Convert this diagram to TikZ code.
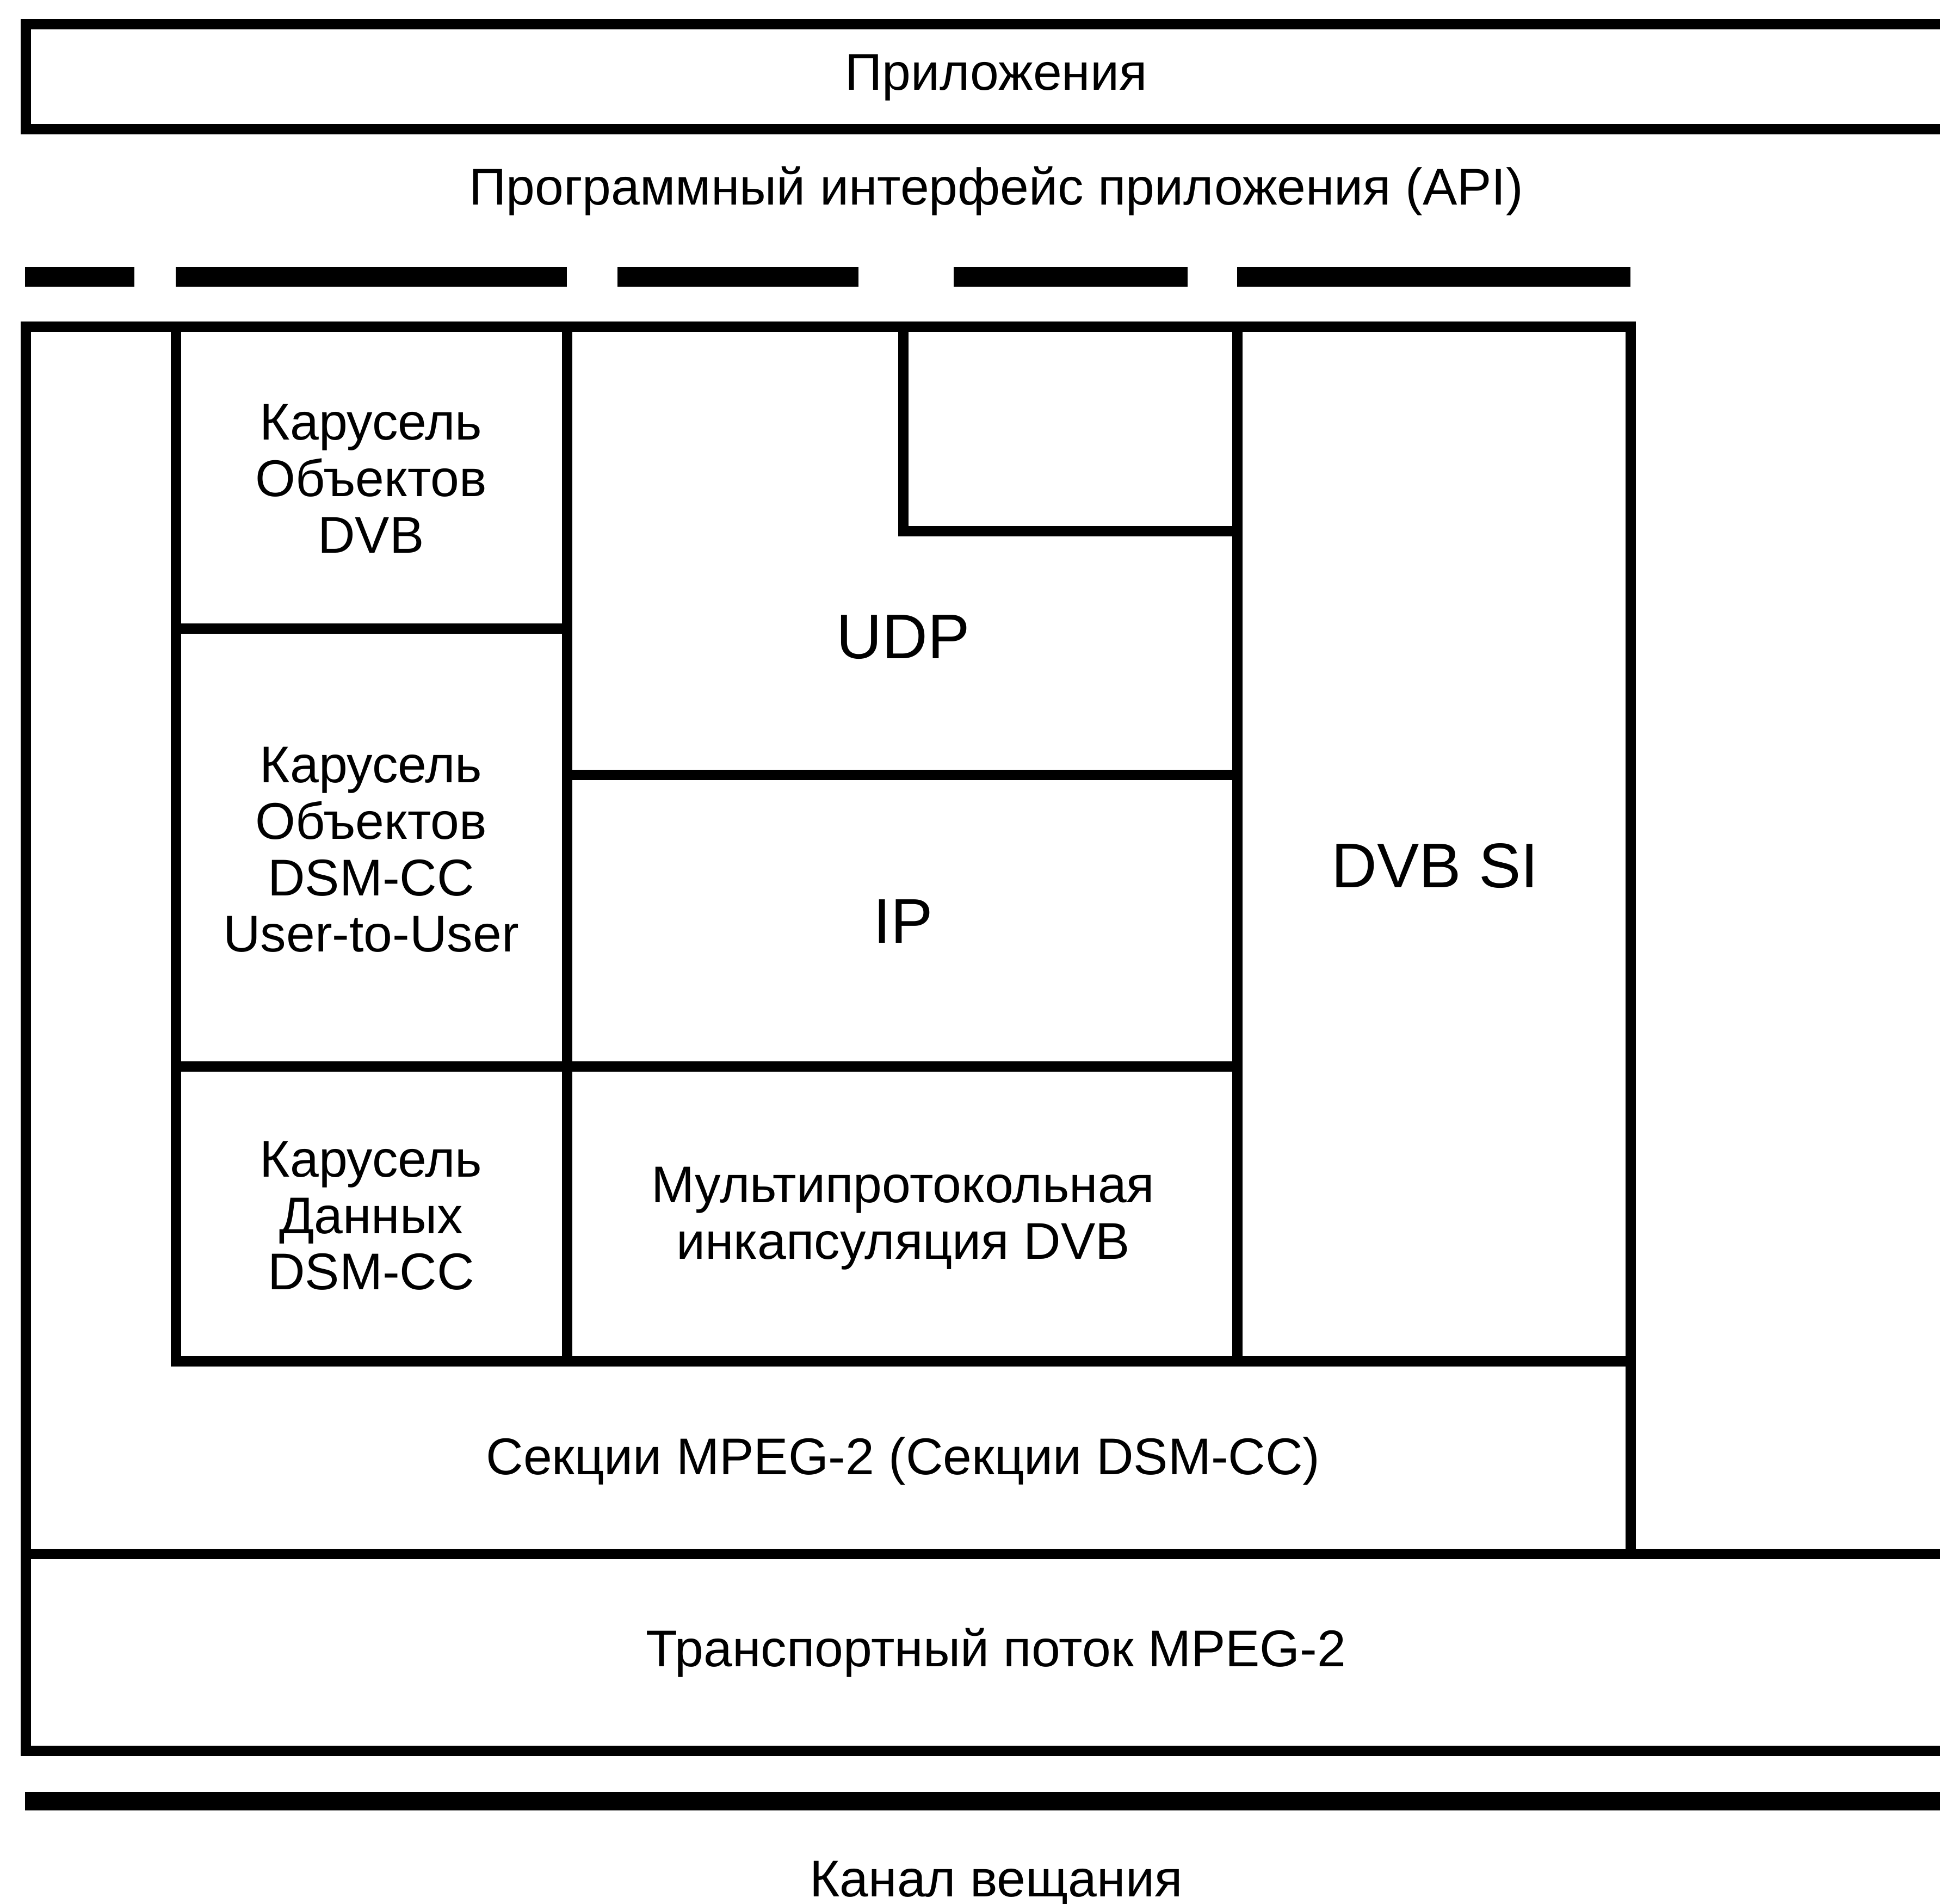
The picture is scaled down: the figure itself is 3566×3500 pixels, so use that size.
\documentclass[tikz,border=0pt]{standalone}
\usepackage{fontspec}
\setmainfont{Liberation Sans}
\begin{document}
\begin{tikzpicture}[x=0.01cm,y=-0.01cm,
  ln/.style={line width=19*0.01cm, line join=miter, line cap=rect},
  dsh/.style={line width=36*0.01cm, line cap=butt},
  thk/.style={line width=34*0.01cm, line cap=butt},
  lbl/.style={font=\fontsize{27}{29.5}\selectfont, align=center, inner sep=0pt},
  big/.style={font=\fontsize{33}{36}\selectfont, align=center, inner sep=0pt}]
\useasboundingbox (0,0) rectangle (3566,3500);
% top box
\draw[ln] (3620,45) -- (47,45) -- (47,238) -- (3620,238);
\node[lbl] (app) at (1831,143) {Приложения};
\node[lbl] (api) at (1831,351) {Программный интерфейс приложения (API)};
% dashes
\coordinate (d1a) at (46,509); \coordinate (d1b) at (247,509);
\coordinate (d2a) at (323,509); \coordinate (d2b) at (1042,509);
\coordinate (d3a) at (1135,509); \coordinate (d3b) at (1578,509);
\coordinate (d4a) at (1753,509); \coordinate (d4b) at (2183,509);
\coordinate (d5a) at (2274,509); \coordinate (d5b) at (2997,509);
\draw[dsh] (d1a) -- (d1b) (d2a) -- (d2b) (d3a) -- (d3b) (d4a) -- (d4b) (d5a) -- (d5b);
% main box
\draw[ln] (47,600) rectangle (2997,2856);
% inner structure
\draw[ln] (323,600) -- (323,2502) -- (2997,2502);
\draw[ln] (1042,600) -- (1042,2502);
\draw[ln] (2274,600) -- (2274,2502);
\draw[ln] (323,1155) -- (1042,1155);
\draw[ln] (323,1960) -- (2274,1960);
\draw[ln] (1042,1424) -- (2274,1424);
\draw[ln] (1660,600) -- (1660,976) -- (2274,976);
% transport box
\draw[ln] (3620,2856) -- (47,2856) -- (47,3218) -- (3620,3218);
% thick channel line
\draw[thk] (46,3311) -- (3620,3311);
% labels
\node[lbl] (c1) at (682,880) {Карусель\\Объектов\\DVB};
\node[lbl] (c2) at (682,1562) {Карусель\\Объектов\\DSM-CC\\User-to-User};
\node[lbl] (c3) at (682,2235) {Карусель\\Данных\\DSM-CC};
\node[big] (udp) at (1660,1171) {UDP};
\node[big] (ip) at (1660,1694) {IP};
\node[lbl] (mpe) at (1660,2240) {Мультипротокольная\\инкапсуляция DVB};
\node[big] (si) at (2638,1592) {DVB SI};
\node[lbl] (sec) at (1660,2686) {Секции MPEG-2 (Секции DSM-CC)};
\node[lbl] (ts) at (1831,3038) {Транспортный поток MPEG-2};
\node[lbl] (ch) at (1831,3463) {Канал вещания};
\end{tikzpicture}
\end{document}
